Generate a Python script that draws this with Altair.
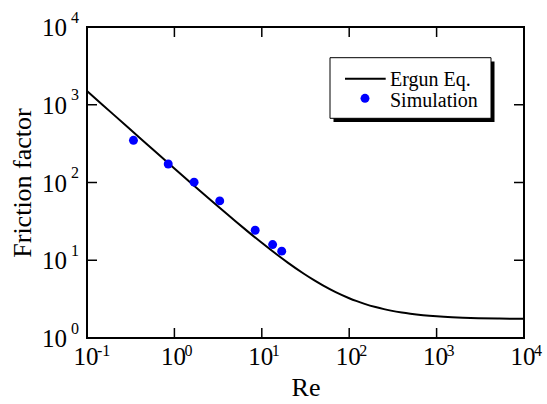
import altair as alt
import pandas as pd

# Ergun equation curve (Re, friction factor)
re_curve = [0.1, 0.15, 0.2, 0.3, 0.5, 0.7, 1, 1.5, 2, 3, 4, 5, 7, 10, 15, 20, 30, 40, 50, 70,
            100, 120, 150, 200, 250, 300, 400, 500, 700, 1000, 1500, 2000, 3000, 5000, 7000,
            10000]
f_curve = [1502, 1002, 752, 502, 302, 216.0, 151.75, 101.75, 76.75, 51.75, 39.25, 31.75,
           23.18, 16.75, 11.75, 9.25, 6.75, 5.5, 4.75, 3.89, 3.25, 3.0, 2.75, 2.5, 2.35,
           2.25, 2.125, 2.05, 1.964, 1.90, 1.85, 1.825, 1.80, 1.78, 1.771, 1.765]

# Simulation results
re_sim = [0.34, 0.85, 1.68, 3.3, 8.4, 13.3, 16.9]
f_sim = [349, 173, 101, 58, 24.3, 15.9, 13.1]

# Decade ticks and their exponents
x_ticks = [0.1, 1, 10, 100, 1000, 10000]
x_exp = ["-1", "0", "1", "2", "3", "4"]
y_ticks = [1, 10, 100, 1000, 10000]
y_exp = ["0", "1", "2", "3", "4"]

legend_labels = ["Ergun Eq.", "Simulation"]

W, H = 437, 311
FONT = "Liberation Serif"
BLUE = "#0000ff"

curve = pd.DataFrame({"Re": re_curve, "f": f_curve})
sim = pd.DataFrame({"Re": re_sim, "f": f_sim})
xt = pd.DataFrame({"Re": x_ticks, "exp": x_exp})
yt = pd.DataFrame({"f": y_ticks, "exp": y_exp})

xscale = alt.Scale(type="log", domain=[0.1, 10000], nice=False)
yscale = alt.Scale(type="log", domain=[1, 10000], nice=False)

x_axis = alt.Axis(title="Re", labels=False, ticks=False, domain=False, grid=False,
                  titleFont=FONT, titleFontSize=26, titleFontWeight="normal",
                  titleColor="black", titleBaseline="alphabetic", titleY=57)
y_axis = alt.Axis(title="Friction factor", labels=False, ticks=False, domain=False,
                  grid=False, titleFont=FONT, titleFontSize=26, titleFontWeight="normal",
                  titleColor="black", titleBaseline="alphabetic", titleX=-57)

X = lambda: alt.X("Re:Q", scale=xscale, axis=x_axis)
Y = lambda: alt.Y("f:Q", scale=yscale, axis=y_axis)

line = alt.Chart(curve).mark_line(color="black", strokeWidth=2, interpolate="monotone").encode(
    x=X(), y=Y(), order="Re:Q",
)

points = alt.Chart(sim).mark_circle(size=80, color=BLUE, opacity=1).encode(x=X(), y=Y())

# inward ticks on all four sides
tick_style = dict(color="black", strokeWidth=1.5)
t_bottom = alt.Chart(xt).mark_rule(**tick_style).encode(x=X(), y=alt.value(H), y2=alt.value(H - 10))
t_top = alt.Chart(xt).mark_rule(**tick_style).encode(x=X(), y=alt.value(0), y2=alt.value(10))
t_left = alt.Chart(yt).mark_rule(**tick_style).encode(y=Y(), x=alt.value(0), x2=alt.value(10))
t_right = alt.Chart(yt).mark_rule(**tick_style).encode(y=Y(), x=alt.value(W), x2=alt.value(W - 10))

# power-of-ten tick labels: base "10" plus superscript exponent
x_base = alt.Chart(xt).mark_text(text="10", font=FONT, fontSize=25, align="center",
                                 baseline="alphabetic", dx=-1, color="black").encode(
    x=X(), y=alt.value(H + 27))
x_sup = alt.Chart(xt).mark_text(font=FONT, fontSize=16, align="left",
                                baseline="alphabetic", dx=10, color="black").encode(
    x=X(), y=alt.value(H + 18), text="exp:N")
y_base = alt.Chart(yt).mark_text(text="10", font=FONT, fontSize=25, align="right",
                                 baseline="alphabetic", dy=9, color="black").encode(
    y=Y(), x=alt.value(-20))
y_sup = alt.Chart(yt).mark_text(font=FONT, fontSize=16, align="right",
                                baseline="alphabetic", dy=-4.5, color="black").encode(
    y=Y(), x=alt.value(-8), text="exp:N")

# legend box with drop shadow
one = pd.DataFrame({"label": [legend_labels[0]]})
two = pd.DataFrame({"label": [legend_labels[1]]})
shadow = alt.Chart(one).mark_rect(color="black").encode(
    x=alt.value(246.5), x2=alt.value(407.5), y=alt.value(34.5), y2=alt.value(95))
box = alt.Chart(one).mark_rect(fill="white", stroke="black", strokeWidth=1).encode(
    x=alt.value(243), x2=alt.value(404), y=alt.value(30.7), y2=alt.value(91.3))
leg_line = alt.Chart(one).mark_rule(color="black", strokeWidth=2).encode(
    x=alt.value(258), x2=alt.value(298.7), y=alt.value(51.7))
leg_dot = alt.Chart(two).mark_circle(size=80, color=BLUE, opacity=1).encode(
    x=alt.value(278), y=alt.value(71.3))
leg_t1 = alt.Chart(one).mark_text(font=FONT, fontSize=20, align="left",
                                  baseline="alphabetic", color="black").encode(
    x=alt.value(303), y=alt.value(59), text="label:N")
leg_t2 = alt.Chart(two).mark_text(font=FONT, fontSize=20, align="left",
                                  baseline="alphabetic", color="black").encode(
    x=alt.value(303), y=alt.value(79.7), text="label:N")

chart = alt.layer(
    line, points, t_bottom, t_top, t_left, t_right,
    x_base, x_sup, y_base, y_sup,
    shadow, box, leg_line, leg_dot, leg_t1, leg_t2,
).properties(
    width=W, height=H,
    autosize=alt.AutoSizeParams(type="none"),
    padding={"left": 87, "top": 27, "right": 23, "bottom": 66},
    background="white",
).configure_view(stroke="black", strokeWidth=2)

chart.save("out.html", embed_options={"renderer": "svg", "actions": False})
